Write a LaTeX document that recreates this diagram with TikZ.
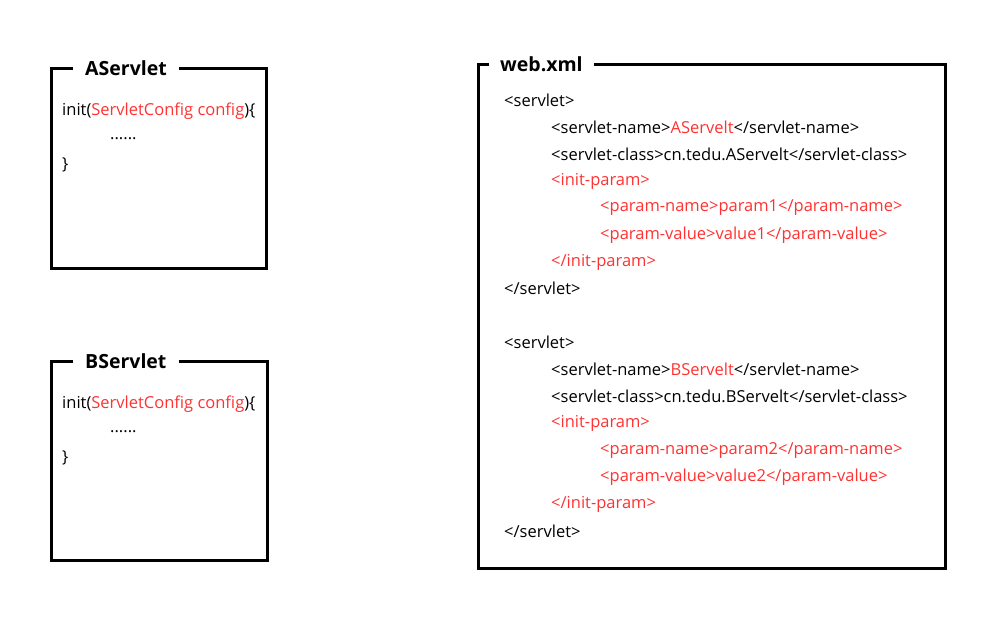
\documentclass[tikz,border=0pt]{standalone}
\usepackage{fontspec}
\setmainfont{Open Sans}
\definecolor{xmlred}{RGB}{255,50,50}
\tikzset{
  box/.style = {draw, line width=3pt, line join=miter},
  boxtitle/.style = {anchor=west, inner xsep=12pt, inner ysep=0pt,
    font=\fontsize{19.5}{22}\selectfont\bfseries},
  codeline/.style = {anchor=west, inner sep=0pt, yshift=-2pt,
    font=\fontsize{16.5}{19}\selectfont}
}
\begin{document}
\begin{tikzpicture}[x=1pt, y=-1pt]
  \useasboundingbox (0,0) rectangle (1003,627);
  % AServlet box
  \node [boxtitle] (atitle) at (73,68) {AServlet};
  \draw [box] (atitle.east) -| (266,268) -| (51,68) -- (atitle.west);
  \node [codeline] (ainit) at (62,109) {init(\textcolor{xmlred}{ServletConfig config})\{};
  \node [codeline] (adots) at (110,137) {......};
  \node [codeline] (aend) at (62,163) {\}};
  % BServlet box
  \node [boxtitle] (btitle) at (73,361) {BServlet};
  \draw [box] (btitle.east) -| (267,560) -| (51,361) -- (btitle.west);
  \node [codeline] (binit) at (62,402) {init(\textcolor{xmlred}{ServletConfig config})\{};
  \node [codeline] (bdots) at (110,430) {......};
  \node [codeline] (bend) at (62,456) {\}};
  % web.xml box
  \node [boxtitle, inner xsep=11pt] (xtitle) at (489,64) {web.xml};
  \draw [box] (xtitle.east) -| (945,568) -| (478,64) -- (xtitle.west);
  \node [codeline] (as1) at (504,98) {<servlet>};
  \node [codeline] (as2) at (551,125) {<servlet-name>\textcolor{xmlred}{AServelt}</servlet-name>};
  \node [codeline] (as3) at (551,152) {<servlet-class>cn.tedu.AServelt</servlet-class>};
  \node [codeline, xmlred] (as4) at (551,179) {<init-param>};
  \node [codeline, xmlred] (as5) at (600,206) {<param-name>param1</param-name>};
  \node [codeline, xmlred] (as6) at (600,233) {<param-value>value1</param-value>};
  \node [codeline, xmlred] (as7) at (551,260) {</init-param>};
  \node [codeline] (as8) at (504,286) {</servlet>};
  \node [codeline] (bs1) at (504,340) {<servlet>};
  \node [codeline] (bs2) at (551,367) {<servlet-name>\textcolor{xmlred}{BServelt}</servlet-name>};
  \node [codeline] (bs3) at (551,394) {<servlet-class>cn.tedu.BServelt</servlet-class>};
  \node [codeline, xmlred] (bs4) at (551,421) {<init-param>};
  \node [codeline, xmlred] (bs5) at (600,448) {<param-name>param2</param-name>};
  \node [codeline, xmlred] (bs6) at (600,475) {<param-value>value2</param-value>};
  \node [codeline, xmlred] (bs7) at (551,502) {</init-param>};
  \node [codeline] (bs8) at (504,529) {</servlet>};
\end{tikzpicture}
\end{document}
